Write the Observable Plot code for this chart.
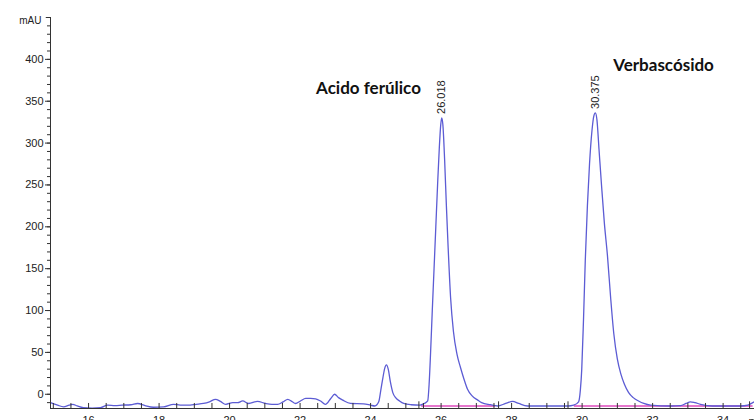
<!DOCTYPE html>
<html>
<head>
<meta charset="utf-8">
<script src="https://cdn.jsdelivr.net/npm/d3@7"></script>
<script src="https://cdn.jsdelivr.net/npm/@observablehq/plot@0.6"></script>
<style>
  html, body { margin: 0; padding: 0; background: #fff; }
  #chart svg { display: block; }
</style>
</head>
<body>
<div id="chart"></div>
<script>
// Retention time (min) and absorbance (mAU)
const time = [
  14.92, 15.12, 15.29, 15.45, 15.55, 15.68, 15.85, 16.10, 16.34, 16.54,
  16.75, 16.95, 17.20, 17.39, 17.60, 17.84, 18.13, 18.41, 18.60, 18.81,
  19.05, 19.26, 19.43, 19.60, 19.74, 19.89, 20.09, 20.23, 20.37, 20.54,
  20.79, 21.02, 21.20, 21.36, 21.52, 21.65, 21.78, 21.87, 22.01, 22.16,
  22.30, 22.44, 22.58, 22.72, 22.87, 22.98, 23.09, 23.21, 23.43, 23.80,
  24.00, 24.12, 24.23, 24.29, 24.35, 24.40, 24.45, 24.50, 24.56, 24.63,
  24.71, 24.82, 24.94, 25.15, 25.40, 25.52, 25.62, 25.66, 25.70, 25.75,
  25.80, 25.85, 25.90, 25.95, 25.99, 26.018, 26.05, 26.10, 26.15, 26.20,
  26.27, 26.35, 26.45, 26.55, 26.65, 26.75, 26.88, 27.04, 27.15, 27.40,
  27.60, 27.83, 28.03, 28.20, 28.45, 29.10, 29.60, 29.76, 29.90, 29.95,
  29.99, 30.04, 30.09, 30.15, 30.21, 30.28, 30.33, 30.375, 30.42, 30.48,
  30.55, 30.63, 30.72, 30.81, 30.90, 31.00, 31.10, 31.20, 31.32, 31.45,
  31.60, 31.75, 31.94, 32.51, 32.79, 32.95, 33.07, 33.20, 33.36, 33.70,
  34.20, 34.50, 34.70, 34.84, 34.89
];
const absorbance = [
  -10, -13, -15, -13, -12, -14, -16, -16.5, -16, -13,
  -13.5, -13, -12.5, -11, -13.5, -15.5, -15, -12, -13, -13,
  -12, -11, -9, -6, -8.5, -12, -10, -10, -8, -11,
  -8.5, -11, -12, -12, -9, -6, -9, -11, -8, -5,
  -5, -5.5, -8, -12, -5, 0, -4, -7, -11, -11.5,
  -13, -14, -9, 5, 20, 31, 35, 30, 15, 2,
  -4, -8, -11, -12.5, -13, -11, -8, 12, 48, 100,
  150, 200, 250, 295, 322, 330, 322, 280, 225, 175,
  115, 75, 48, 32, 18, 6, -2, -7, -10, -12.5,
  -14, -11, -8.5, -11, -14, -14, -14, -13, -9, 5,
  30, 90, 160, 225, 275, 315, 332, 336, 328, 292,
  250, 205, 165, 115, 72, 42, 24, 12, 2, -4,
  -8, -11, -13, -14, -13.5, -11, -9, -10, -12, -14,
  -14, -14, -13, -10, -9
];

// Axis ticks
const xLabels = [16, 18, 20, 22, 24, 26, 28, 30, 32, 34];
const xMinor = d3.range(15, 35, 0.5);
const yLabels = [0, 50, 100, 150, 200, 250, 300, 350, 400];
const yMinor = d3.range(-10, 451, 10);

// Peak retention-time labels and compound names
const peakTimes = [26.018, 30.375];
const peakHeights = [330, 336];
const peakLabels = ["26.018", "30.375"];
const compoundNames = ["Acido ferúlico", "Verbascósido"];
const compoundTimes = [23.94, 32.31];
const compoundLevels = [365, 393];

// Integration baselines (start, end, level) and event marks
const baseStart = [25.45, 29.78];
const baseEnd = [27.55, 34.85];
const baseLevel = [-14, -14];
const eventTimes = [25.37, 27.63, 29.6, 34.75];

const xDomain = [14.92, 34.89];
const yDomain = [-17, 450];

const trace = time.map((t, i) => ({t, v: absorbance[i]}));
const peaks = peakTimes.map((t, i) => ({t, v: peakHeights[i], label: peakLabels[i]}));
const names = compoundNames.map((n, i) => ({t: compoundTimes[i], v: compoundLevels[i], name: n}));
const baselines = baseStart.map((s, i) => ({s, e: baseEnd[i], v: baseLevel[i]}));

const axisColor = "#333";

const chart = Plot.plot({
  width: 754,
  height: 420,
  marginLeft: 50,
  marginRight: 0,
  marginTop: 17,
  marginBottom: 12,
  style: {fontFamily: "'Liberation Sans', Arial, sans-serif", fontSize: "11px", color: "#222", background: "#fff", overflow: "visible"},
  x: {domain: xDomain, axis: null},
  y: {domain: yDomain, axis: null},
  marks: [
    // integration baselines
    Plot.ruleY(baselines, {y: "v", x1: "s", x2: "e", stroke: "#e055c0", strokeWidth: 1.8, strokeOpacity: 0.8}),
    // trace
    Plot.line(trace, {x: "t", y: "v", stroke: "#5c5cd4", strokeWidth: 1.3, curve: "monotone-x"}),
    // integration event marks
    Plot.ruleX(eventTimes, {x: d => d, y1: -17, y2: -9, stroke: "#333", strokeWidth: 1}),
    // axes lines
    Plot.ruleX([xDomain[0]], {stroke: axisColor}),
    Plot.ruleY([yDomain[0]], {stroke: axisColor}),
    Plot.ruleY([450], {x1: xDomain[0] - 0.12, x2: xDomain[0], stroke: axisColor}),
    // y axis ticks and labels
    Plot.axisY(yMinor, {tickSize: 3, tickFormat: () => "", label: null, stroke: axisColor}),
    Plot.axisY(yLabels, {tickSize: 5, tickPadding: 2, tickFormat: d => String(d), label: null, stroke: axisColor, fill: "#222"}),
    // x axis ticks (inward) and labels
    Plot.ruleX(xMinor, {x: d => d, y1: -17, y2: -11, stroke: axisColor}),
    Plot.axisX(xLabels, {tickSize: 0, tickPadding: 8, tickFormat: d => String(d), label: null, fill: "#222"}),
    Plot.text(["min"], {x: xDomain[1], y: yDomain[0], dx: -6, dy: 13, text: d => d, textAnchor: "start", fill: "#222"}),
    Plot.text(["mAU"], {x: xDomain[0], y: 450, dx: -9, dy: 3, text: d => d, textAnchor: "end", fill: "#222", fontSize: 10}),
    // peak retention labels
    Plot.text(peaks, {x: "t", y: "v", text: "label", rotate: -90, textAnchor: "start", lineAnchor: "middle", dy: -4, fill: "#222", fontSize: 11}),
    // compound names
    Plot.text(names, {x: "t", y: "v", text: "name", fontFamily: "Lato, 'Open Sans', sans-serif", fontWeight: "bold", fontSize: 17, fill: "#111"})
  ]
});

document.getElementById("chart").appendChild(chart);
</script>
</body>
</html>
